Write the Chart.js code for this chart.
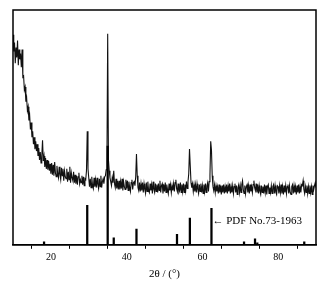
<!DOCTYPE html>
<html>
<head>
<meta charset="utf-8">
<script src="https://cdn.jsdelivr.net/npm/chart.js@4/dist/chart.umd.min.js"></script>
<style>
html,body{margin:0;padding:0;background:#fff;}
canvas{display:block;}
</style>
</head>
<body>
<canvas id="c" width="328" height="283"></canvas>
<script>
// XRD scan: 2θ from 10° to 90° in 0.2° steps
const scanStart = 10;
const scanStep = 0.2;
const intensity = [
  213,196,205,184,200,190,207,182,198,188,
  194,180,198,170,171,157,160,145,149,136,
  140,126,131,117,124,109,115,102,109,97,
  105,95,102,90,98,86,94,83,90,106,
  85,90,79,88,77,86,76,85,75,82,
  72,83,71,81,70,84,73,69,80,72,
  68,79,71,66,78,70,77,65,75,69,
  67,77,64,74,66,79,63,73,68,65,
  74,63,71,62,70,61,69,73,62,66,
  63,70,61,69,60,67,66,75,115,77,
  68,59,67,58,69,60,57,68,59,66,
  58,68,61,57,67,59,70,58,64,67,
  62,69,70,76,84,214,86,75,68,64,
  60,68,63,75,62,58,67,57,65,56,
  65,56,64,57,67,55,64,59,56,66,
  57,65,55,64,58,54,63,66,56,63,
  64,60,69,92,70,58,55,63,54,62,
  55,63,53,62,56,52,63,54,64,55,
  53,62,55,61,52,64,56,53,62,54,
  61,53,62,55,65,53,60,62,52,61,
  54,63,53,61,56,52,62,55,61,53,
  60,55,62,54,63,66,57,54,62,53,
  55,63,53,61,54,62,53,61,55,64,
  57,64,72,97,80,63,58,62,54,61,
  54,61,53,62,56,52,61,54,62,53,
  60,52,61,54,62,53,60,63,54,64,
  70,105,96,70,59,55,61,53,60,54,
  59,52,61,53,60,51,60,53,61,52,
  59,53,61,52,60,54,62,52,59,53,
  60,52,59,62,53,60,51,58,61,53,
  60,53,61,65,56,52,60,52,59,61,
  53,60,52,61,54,59,53,61,65,58,
  55,62,53,61,52,60,54,51,60,53,
  59,52,61,53,60,51,59,61,52,58,
  53,60,52,59,61,52,60,53,51,60,
  59,52,60,53,61,52,59,51,60,53,
  60,52,59,61,52,60,53,51,59,61,
  52,60,53,59,51,60,53,61,52,59,
  53,61,60,65,56,52,59,53,60,52,
  59,52,60,53,59,51,60,56,60,63,
  58
];

// Reference pattern PDF No.73-1963 (stick positions and heights)
const pdfPositions = [18.2, 29.6, 35.0, 36.6, 42.6, 53.3, 56.7, 62.4, 71.0, 73.9, 74.5, 86.9];
const pdfHeights   = [3,    40,   100,  7,    16,   10.5, 27,   37,   3,    6,    2,    3];

const xTickLabels = [20, 40, 60, 80];
const xTitle = '2θ / (°)';
const pdfLabel = '← PDF No.73-1963';

const scanPoints = intensity.map((v, i) => ({ x: +(scanStart + i * scanStep).toFixed(2), y: v }));
const stickPoints = pdfPositions.map((p, i) => ({ x: p, y: pdfHeights[i] }));

const SERIF = '"Liberation Serif", "DejaVu Serif", serif';

const boxPlugin = {
  id: 'box',
  afterDatasetsDraw(chart) {
    const { ctx, chartArea: a, scales } = chart;
    ctx.save();
    ctx.strokeStyle = '#000';
    ctx.lineWidth = 1.5;
    ctx.strokeRect(a.left, a.top, a.right - a.left, a.bottom - a.top);
    ctx.fillStyle = '#000';
    ctx.font = '11px ' + SERIF;
    ctx.textBaseline = 'middle';
    ctx.textAlign = 'left';
    ctx.fillText(pdfLabel, scales.x.getPixelForValue(62.4) + 1, scales.y.getPixelForValue(24));
    ctx.restore();
  }
};

new Chart(document.getElementById('c'), {
  data: {
    datasets: [
      {
        type: 'line',
        data: scanPoints,
        borderColor: '#111',
        borderWidth: 1.1,
        pointRadius: 0,
        tension: 0,
        order: 2
      },
      {
        type: 'bar',
        data: stickPoints,
        backgroundColor: '#000',
        borderWidth: 0,
        barThickness: 1.6,
        order: 1
      }
    ]
  },
  options: {
    responsive: false,
    devicePixelRatio: 1,
    animation: false,
    layout: { padding: { left: 13, right: 12, top: 10, bottom: 2 } },
    plugins: { legend: { display: false }, tooltip: { enabled: false } },
    scales: {
      x: {
        type: 'linear',
        min: 10,
        max: 90,
        offset: false,
        grid: { display: true, drawOnChartArea: false, drawTicks: true, tickLength: 4, color: '#000', lineWidth: 1 },
        border: { display: true, color: '#000', width: 1.5 },
        ticks: {
          stepSize: 10,
          autoSkip: false,
          maxRotation: 0,
          padding: 3,
          color: '#000',
          font: { family: SERIF, size: 10 },
          callback: v => xTickLabels.includes(v) ? String(v) : ''
        },
        title: {
          display: true,
          text: xTitle,
          color: '#000',
          font: { family: SERIF, size: 11 },
          padding: { top: 1, bottom: 0 }
        }
      },
      y: {
        display: false,
        min: 0,
        max: 238
      }
    }
  },
  plugins: [boxPlugin]
});
</script>
</body>
</html>
